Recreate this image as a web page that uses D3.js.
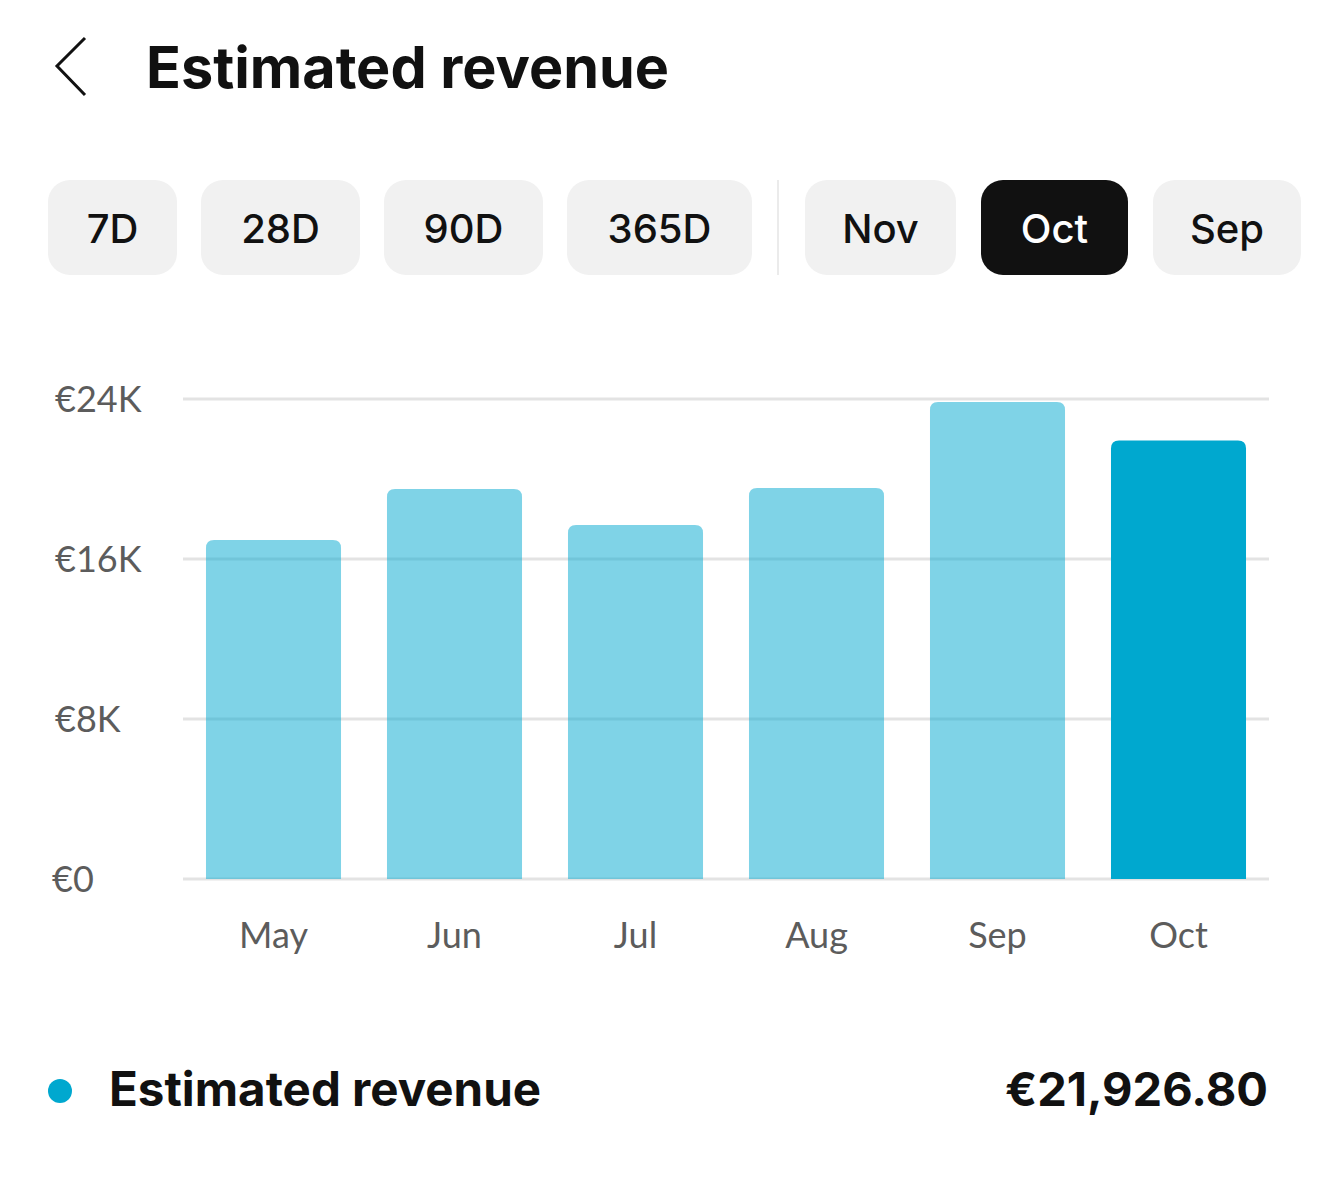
<!DOCTYPE html>
<html>
<head>
<meta charset="utf-8">
<script src="https://cdn.jsdelivr.net/npm/d3@7"></script>
<style>
  body { margin: 0; background: #fff; }
  svg { display: block; }
  .axis-label { font-family: Lato, "Open Sans", sans-serif; fill: #5c5c5c; }
</style>
</head>
<body>
<script>
const months = ['May', 'Jun', 'Jul', 'Aug', 'Sep', 'Oct'];
const revenue = [16950, 19500, 17700, 19550, 23850, 21926.8];
const yTicks = [0, 8000, 16000, 24000];
const yTickLabels = ['€0', '€8K', '€16K', '€24K'];
const rangeButtons = ['7D', '28D', '90D', '365D'];
const monthButtons = ['Nov', 'Oct', 'Sep'];
const selectedMonth = 'Oct';
const legendLabel = 'Estimated revenue';
const legendValue = '€21,926.80';

const width = 1320;
const height = 1192;
const uiFont = 'Inter, Roboto, sans-serif';

const svg = d3.select('body').append('svg')
    .attr('width', width)
    .attr('height', height);

// header: back chevron + title
svg.append('path')
    .attr('d', 'M85,38 L57,66 L85,95')
    .attr('fill', 'none')
    .attr('stroke', '#111')
    .attr('stroke-width', 3);

svg.append('text')
    .attr('x', 146)
    .attr('y', 88)
    .attr('font-family', uiFont)
    .attr('font-weight', 700)
    .attr('font-size', 57.5)
    .attr('fill', '#111')
    .text('Estimated revenue');

// filter buttons
const btnY = 180, btnH = 95;
const buttons = [
    {label: rangeButtons[0], x: 48, w: 129},
    {label: rangeButtons[1], x: 201, w: 159},
    {label: rangeButtons[2], x: 384, w: 159},
    {label: rangeButtons[3], x: 567, w: 185},
    {label: monthButtons[0], x: 805, w: 151},
    {label: monthButtons[1], x: 981, w: 147},
    {label: monthButtons[2], x: 1153, w: 148}
];

svg.append('rect')
    .attr('x', 777).attr('y', btnY)
    .attr('width', 2).attr('height', btnH)
    .attr('fill', '#ebebeb');

const btn = svg.selectAll('g.btn')
    .data(buttons)
    .enter()
    .append('g')
    .attr('class', 'btn');

btn.append('rect')
    .attr('x', d => d.x)
    .attr('y', btnY)
    .attr('width', d => d.w)
    .attr('height', btnH)
    .attr('rx', 22)
    .attr('fill', d => d.label === selectedMonth ? '#111' : '#f1f1f1');

btn.append('text')
    .attr('x', d => d.x + d.w / 2)
    .attr('y', 243)
    .attr('text-anchor', 'middle')
    .attr('font-family', uiFont)
    .attr('font-weight', 500)
    .attr('font-size', 40)
    .attr('fill', d => d.label === selectedMonth ? '#fff' : '#111')
    .text(d => d.label);

// chart
const x = d3.scaleBand()
    .domain(months)
    .range([183, 1269])
    .paddingInner(0.254)
    .paddingOuter(0.127);

const y = d3.scaleLinear()
    .domain([0, 24000])
    .range([879, 399]);

const grid = svg.append('g');
grid.selectAll('line')
    .data(yTicks)
    .enter()
    .append('line')
    .attr('x1', 183)
    .attr('x2', 1269)
    .attr('y1', d => y(d))
    .attr('y2', d => y(d))
    .attr('stroke', '#e3e3e3')
    .attr('stroke-width', 3);

svg.append('g')
    .selectAll('text')
    .data(yTicks)
    .enter()
    .append('text')
    .attr('class', 'axis-label')
    .attr('x', d => d === 0 ? 52 : 55)
    .attr('y', d => y(d) + 13)
    .attr('font-size', 36)
    .text((d, i) => yTickLabels[i]);

const r = 8;
function topRounded(x0, y0, w, h) {
    return `M${x0},${y0 + h} L${x0},${y0 + r} Q${x0},${y0} ${x0 + r},${y0}` +
        ` L${x0 + w - r},${y0} Q${x0 + w},${y0} ${x0 + w},${y0 + r} L${x0 + w},${y0 + h} Z`;
}

svg.append('g')
    .selectAll('path')
    .data(months.map((m, i) => ({month: m, value: revenue[i]})))
    .enter()
    .append('path')
    .attr('d', d => topRounded(x(d.month), y(d.value), x.bandwidth(), y(0) - y(d.value)))
    .attr('fill', '#00a8cf')
    .attr('fill-opacity', d => d.month === selectedMonth ? 1 : 0.5);

svg.append('g')
    .selectAll('text')
    .data(months)
    .enter()
    .append('text')
    .attr('class', 'axis-label')
    .attr('x', d => x(d) + x.bandwidth() / 2)
    .attr('y', 948)
    .attr('text-anchor', 'middle')
    .attr('font-size', 36)
    .text(d => d);

// legend row
svg.append('circle')
    .attr('cx', 60)
    .attr('cy', 1091)
    .attr('r', 12)
    .attr('fill', '#00a8cf');

svg.append('text')
    .attr('x', 109)
    .attr('y', 1106)
    .attr('font-family', uiFont)
    .attr('font-weight', 700)
    .attr('font-size', 47.5)
    .attr('fill', '#111')
    .text(legendLabel);

svg.append('text')
    .attr('x', 1268)
    .attr('y', 1106)
    .attr('text-anchor', 'end')
    .attr('font-family', uiFont)
    .attr('font-weight', 700)
    .attr('font-size', 47)
    .attr('fill', '#111')
    .text(legendValue);
</script>
</body>
</html>
